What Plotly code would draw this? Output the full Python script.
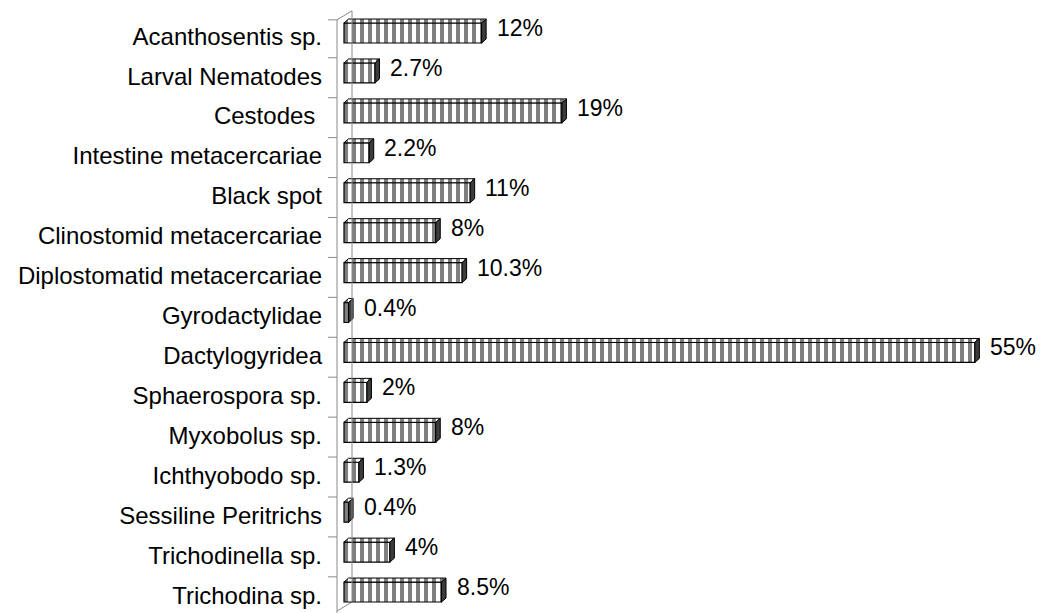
import plotly.graph_objects as go

# Parasite groups (top to bottom) and their prevalence (%)
categories = [
    "Acanthosentis sp.", "Larval Nematodes", "Cestodes ", "Intestine metacercariae",
    "Black spot", "Clinostomid metacercariae", "Diplostomatid metacercariae",
    "Gyrodactylidae", "Dactylogyridea", "Sphaerospora sp.", "Myxobolus sp.",
    "Ichthyobodo sp.", "Sessiline Peritrichs", "Trichodinella sp.", "Trichodina sp.",
]
values = [12, 2.7, 19, 2.2, 11, 8, 10.3, 0.4, 55, 2, 8, 1.3, 0.4, 4, 8.5]
labels = ["12%", "2.7%", "19%", "2.2%", "11%", "8%", "10.3%", "0.4%", "55%",
          "2%", "8%", "1.3%", "0.4%", "4%", "8.5%"]

FONT = "Liberation Sans, Arial, sans-serif"
W, H = 1047, 613
LEFT = 326
PX_PER_UNIT_X = 11.47
PX_PER_CAT = 39.93
X0 = -(344 - LEFT) / PX_PER_UNIT_X
X1 = X0 + (W - LEFT) / PX_PER_UNIT_X
Y_TOP = -33 / PX_PER_CAT
Y_BOT = (len(categories) - 1) + (H - 33 - (len(categories) - 1) * PX_PER_CAT) / PX_PER_CAT

pos = list(range(len(categories)))
half = 0.25                      # half bar thickness (category units)
dx = 4.5 / PX_PER_UNIT_X          # depth offset, x
dy = 4.0 / PX_PER_CAT             # depth offset, y
label_off = 0.08                  # category label sits slightly below bar centre
tick_off = -0.38                  # category separators on the front axis

stripes = dict(shape="|", size=8, solidity=0.5, fgcolor="black", bgcolor="white")

fig = go.Figure()

# top and side faces of the 3-D bars
tx, ty, sx, sy = [], [], [], []
for v, p in zip(values, pos):
    t = p - half
    b = p + half
    tx += [0, v, v + dx, dx, 0, None]
    ty += [t, t, t - dy, t - dy, t, None]
    sx += [v, v + dx, v + dx, v, v, None]
    sy += [t, t - dy, b - dy, b, t, None]

fig.add_trace(go.Scatter(
    x=tx, y=ty, mode="lines", fill="toself", fillcolor="white",
    fillpattern=stripes,
    line=dict(color="black", width=1), hoverinfo="skip", showlegend=False))
fig.add_trace(go.Scatter(
    x=sx, y=sy, mode="lines", fill="toself", fillcolor="#3c3c3c",
    line=dict(color="black", width=1), hoverinfo="skip", showlegend=False))

# front faces
fig.add_trace(go.Bar(
    x=values, y=pos, orientation="h", width=2 * half, base=0,
    marker=dict(color="white", pattern=stripes,
                line=dict(color="black", width=1.2)),
    hoverinfo="skip", showlegend=False))

# value labels
for v, p, t in zip(values, pos, labels):
    fig.add_annotation(x=v, y=p, text=t, showarrow=False, xanchor="left", yanchor="middle",
                       xshift=13, yshift=5, font=dict(family=FONT, size=23, color="black"))

# axis walls: front axis, back wall line and connecting edges
fx = -7 / PX_PER_UNIT_X
bx = 8 / PX_PER_UNIT_X
shift_y = 9 / PX_PER_CAT
f_top = tick_off + 0.05
f_bot = Y_BOT - 0.05
line_col = "#8a8a8a"
shapes = [
    dict(type="line", x0=fx, x1=fx, y0=f_top, y1=Y_BOT + 1, line=dict(color=line_col, width=1)),
    dict(type="line", x0=bx, x1=bx, y0=f_top - shift_y, y1=f_bot - shift_y,
         line=dict(color=line_col, width=1), layer="above"),
    dict(type="line", x0=fx, x1=bx, y0=f_top, y1=f_top - shift_y, line=dict(color=line_col, width=1)),
    dict(type="line", x0=fx, x1=bx, y0=f_bot, y1=f_bot - shift_y, line=dict(color=line_col, width=1)),
]
tick_left = -(344 - 328) / PX_PER_UNIT_X
for k in range(len(categories) + 1):
    yk = k + tick_off + (0.05 if k == 0 else 0)
    shapes.append(dict(type="line", x0=tick_left, x1=fx, y0=yk, y1=yk,
                       line=dict(color=line_col, width=1)))
for s in shapes:
    s.update(xref="x", yref="y")
    s.setdefault("layer", "below")
fig.update_layout(shapes=shapes)

fig.update_layout(
    width=W, height=H,
    margin=dict(l=LEFT, r=0, t=0, b=0),
    paper_bgcolor="white", plot_bgcolor="white",
    xaxis=dict(range=[X0, X1], visible=False, fixedrange=True),
    yaxis=dict(range=[Y_BOT, Y_TOP], tickmode="array",
               tickvals=[p + label_off for p in pos], ticktext=categories,
               ticks="", showgrid=False, zeroline=False, showline=False,
               ticklabelstandoff=3,
               tickfont=dict(family=FONT, size=24, color="black"), fixedrange=True),
    bargap=0.5,
)

fig.write_html("out.html", config={"displayModeBar": False})
